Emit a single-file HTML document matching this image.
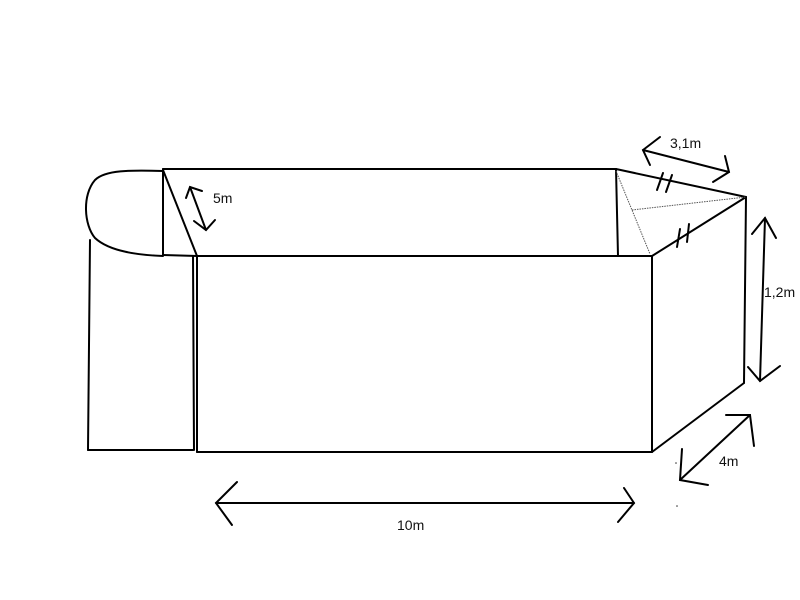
<!DOCTYPE html>
<html><head><meta charset="utf-8"><style>html,body{margin:0;padding:0;background:#fff}svg{display:block}text{font-family:"Liberation Sans",sans-serif;font-size:14px;fill:#111}</style></head>
<body>
<svg width="800" height="600" viewBox="0 0 800 600" xmlns="http://www.w3.org/2000/svg">
<rect width="800" height="600" fill="#fff"/>
<g fill="none" stroke="#000" stroke-width="2" stroke-linecap="round">
<path d="M163,171 C130,170 105,170 95,180 C82,195 84,225 95,238 C110,252 140,255 163,256"/>
<line x1="90" y1="240" x2="88" y2="450"/>
<line x1="88" y1="450" x2="193" y2="450"/>
<line x1="193" y1="256" x2="194" y2="450"/>
<line x1="163" y1="169" x2="616" y2="169"/>
<line x1="163" y1="169" x2="163" y2="255"/>
<line x1="163" y1="255" x2="197" y2="256"/>
<line x1="163" y1="170" x2="197" y2="256"/>
<line x1="197" y1="256" x2="652" y2="256"/>
<line x1="197" y1="256" x2="197" y2="452"/>
<line x1="197" y1="452" x2="652" y2="452"/>
<line x1="652" y1="256" x2="652" y2="452"/>
<line x1="616" y1="169" x2="618" y2="256"/>
<line x1="616" y1="169" x2="746" y2="197"/>
<line x1="746" y1="197" x2="652" y2="256"/>
<line x1="746" y1="197" x2="744" y2="383"/>
<line x1="744" y1="383" x2="652" y2="452"/>
<line x1="657" y1="190" x2="663" y2="173"/><line x1="666" y1="192" x2="672" y2="175"/>
<line x1="677" y1="247" x2="680" y2="229"/><line x1="687" y1="242" x2="689" y2="224"/>
<line x1="190" y1="187" x2="206" y2="230"/>
<polyline points="186,198 190,187 202,191"/>
<polyline points="194,221 206,230 215,220"/>
<line x1="643" y1="150" x2="729" y2="172"/>
<polyline points="660,137 643,150 650,165"/>
<polyline points="713,182 729,172 725,156"/>
<line x1="765" y1="218" x2="760" y2="381"/>
<polyline points="752,234 765,218 776,238"/>
<polyline points="748,367 760,381 780,366"/>
<line x1="680" y1="480" x2="750" y2="415"/>
<polyline points="726,415 750,415 754,446"/>
<polyline points="682,449 680,480 708,485"/>
<line x1="216" y1="503" x2="634" y2="503"/>
<polyline points="237,482 216,503 232,525"/>
<polyline points="624,488 634,503 618,522"/>
</g>
<g stroke="#555" stroke-width="1" stroke-dasharray="1.5,1" fill="none">
<line x1="616" y1="171" x2="650" y2="254"/>
<line x1="632" y1="210" x2="746" y2="197"/>
</g>
<circle cx="676" cy="463" r="0.8" fill="#333"/>
<circle cx="677" cy="506" r="0.8" fill="#333"/>
<text x="670" y="148">3,1m</text>
<text x="213" y="203">5m</text>
<text x="764" y="297">1,2m</text>
<text x="719" y="466">4m</text>
<text x="397" y="530">10m</text>
</svg>
</body></html>
